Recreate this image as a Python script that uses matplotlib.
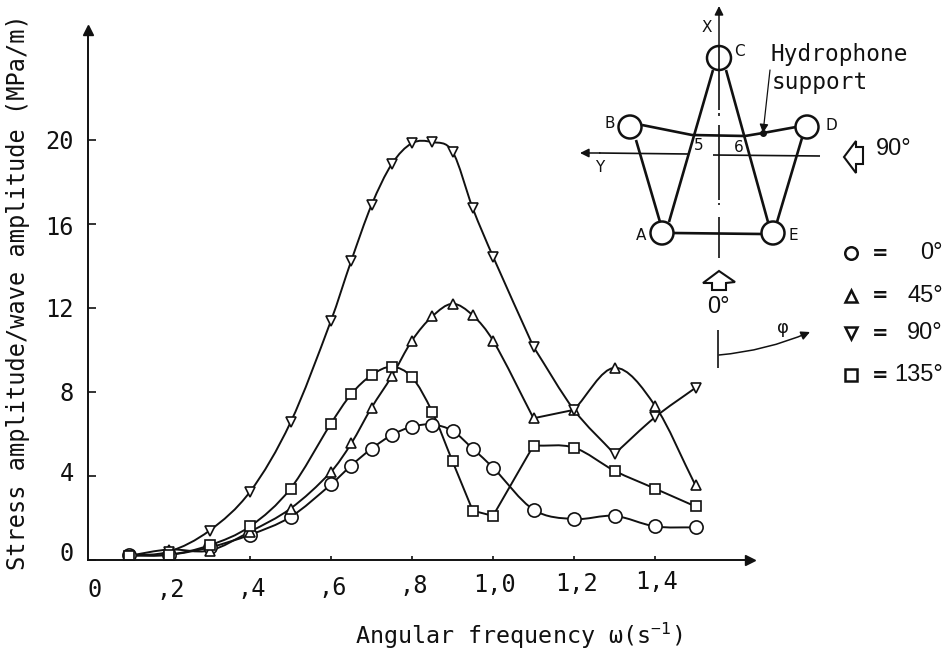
import matplotlib
matplotlib.use('Agg')
import matplotlib.pyplot as plt
from matplotlib.patches import Circle, FancyArrowPatch, PathPatch, Polygon
from matplotlib.path import Path
import numpy as np

plt.rcParams['font.family'] = 'DejaVu Sans Mono'
plt.rcParams['mathtext.default'] = 'regular'

freq = [.1, .2, .3, .4, .5, .6, .65, .7, .75, .8, .85, .9, .95, 1.0, 1.1, 1.2, 1.3, 1.4, 1.5]
deg0 = [.24, .25, .6, 1.2, 2.05, 3.6, 4.5, 5.3, 5.95, 6.35, 6.45, 6.15, 5.3, 4.4, 2.4, 1.95, 2.1, 1.6, 1.55]
deg45 = [.2, .5, .45, 1.35, 2.45, 4.2, 5.55, 7.25, 8.75, 10.45, 11.6, 12.2, 11.65, 10.45, 6.75, 7.15, 9.15, 7.35, 3.55]
deg90 = [.2, .4, 1.4, 3.25, 6.55, 11.4, 14.25, 16.9, 18.85, 19.85, 19.9, 19.45, 16.75, 14.45, 10.15, 7.15, 5.05, 6.8, 8.2]
deg135 = [.2, .25, .7, 1.6, 3.4, 6.5, 7.9, 8.8, 9.2, 8.7, 7.05, 4.7, 2.35, 2.1, 5.45, 5.35, 4.25, 3.4, 2.55]

# sharp corners in the hand drawn curves
kinks0 = []
kinks45 = [1.1, 1.2]
kinks90 = [1.1, 1.3]
kinks135 = [.95, 1.0, 1.1]

xticks = [.2, .4, .6, .8, 1.0, 1.2, 1.4]
xticklabels = [',2', ',4', ',6', ',8', '1,0', '1,2', '1,4']
yticks = [0, 4, 8, 12, 16, 20]

legend_marks = ['o', '^', 'v', 's']
legend_names = ['0°', '45°', '90°', '135°']
LINE = '#111111'


def smooth_path(x, y, kinks):
    # hermite curve through the points, flat slope given at the corners
    x = np.array(x)
    y = np.array(y)
    slope = np.zeros(len(x))
    slope[1:-1] = (y[2:] - y[:-2]) / (x[2:] - x[:-2])
    slope[0] = (y[1] - y[0]) / (x[1] - x[0])
    slope[-1] = (y[-1] - y[-2]) / (x[-1] - x[-2])
    verts = [(x[0], y[0])]
    codes = [Path.MOVETO]
    for i in range(len(x) - 1):
        dx = x[i + 1] - x[i]
        s0 = (y[i + 1] - y[i]) / dx if round(x[i], 2) in kinks else slope[i]
        s1 = (y[i + 1] - y[i]) / dx if round(x[i + 1], 2) in kinks else slope[i + 1]
        verts += [(x[i] + dx / 3, y[i] + s0 * dx / 3), (x[i + 1] - dx / 3, y[i + 1] - s1 * dx / 3),
                  (x[i + 1], y[i + 1])]
        codes += [Path.CURVE4] * 3
    return Path(verts, codes)


fig = plt.figure(figsize=(9.51, 6.52), dpi=100)
ax = fig.add_axes([88 / 951, 92 / 652, 662 / 951, 530 / 652])
ax.set_xlim(0, 662 / 405)
ax.set_ylim(0, 530 / 21)
ax.patch.set_visible(False)

series = [(deg0, kinks0, 'o', 9.5), (deg45, kinks45, '^', 7), (deg90, kinks90, 'v', 7), (deg135, kinks135, 's', 7.5)]
for vals, kinks, m, ms in series:
    ax.add_patch(PathPatch(smooth_path(freq, vals, kinks), fc='none', ec=LINE, lw=1.4))
for vals, kinks, m, ms in series:
    ax.plot(freq, vals, ls='none', marker=m, ms=ms, mfc='white', mec=LINE, mew=1.2)

for s in ['top', 'right']:
    ax.spines[s].set_visible(False)
for s in ['left', 'bottom']:
    ax.spines[s].set_linewidth(1.4)
    ax.spines[s].set_color(LINE)
ax.plot(1, 0, '>', color=LINE, ms=7, transform=ax.transAxes, clip_on=False)
ax.plot(0, 1, '^', color=LINE, ms=7, transform=ax.transAxes, clip_on=False)

ax.set_xticks(xticks, [''] * len(xticks))
ax.set_yticks(yticks, [''] * len(yticks))
ax.tick_params(axis='x', direction='in', length=3, width=1.2, color=LINE)
ax.tick_params(axis='y', direction='in', length=6, width=1.2, color=LINE)

# the scan is a bit skewed, so the tick labels drift upward to the right
for v, s in zip(xticks, xticklabels):
    ax.annotate(s, (v, 0), xytext=(2, -31.5 + 6.5 * v), textcoords='offset pixels', fontsize=17,
                ha='center', va='center', color=LINE, annotation_clip=False)
for v, shift in zip(yticks, [6, 2, -2, -2, -4, -2]):
    ax.annotate(str(v), (0, v), xytext=(-14, shift), textcoords='offset pixels', fontsize=17,
                ha='right', va='center', color=LINE, annotation_clip=False)

# overlay in image pixels for the labels and the sketch of the platform
ov = fig.add_axes([0, 0, 1, 1])
ov.set_xlim(0, 951)
ov.set_ylim(652, 0)
ov.axis('off')
ov.patch.set_visible(False)


def seg(pts, lw=1.9):
    ov.plot([p[0] for p in pts], [p[1] for p in pts], color=LINE, lw=lw, solid_capstyle='butt')


def label(x, y, s, size=11, fam='DejaVu Sans', ha='center', **kw):
    ov.text(x, y, s, fontsize=size, family=fam, ha=ha, va='center', color=LINE, **kw)


def arrow(p0, p1, lw=1.1, rad=0.0):
    ov.add_patch(FancyArrowPatch(p0, p1, arrowstyle='-|>', mutation_scale=13, lw=lw, color=LINE,
                                 shrinkA=0, shrinkB=0, connectionstyle=f'arc3,rad={rad}'))


label(95, 590, '0', 17, 'DejaVu Sans Mono')
label(18, 292, 'Stress amplitude/wave amplitude (MPa/m)', 17, 'DejaVu Sans Mono', rotation=90)
label(355, 636, 'Angular frequency ω(s$^{-1}$)', 16.8, 'DejaVu Sans Mono', ha='left')

seg([(713, 70), (669, 222)])
seg([(726, 70), (768, 222)])
seg([(636, 140), (660, 222)])
seg([(802, 138), (777, 222)])
seg([(673, 233), (762, 234)])
seg([(642, 125), (692, 135), (745, 136), (763, 133), (796, 127)])
seg([(599, 153), (688, 154)], 1.2)
seg([(713, 155), (820, 156)], 1.2)
arrow((600, 153), (580, 153))
arrow((719, 47), (719, 6))
seg([(719, 47), (719, 110)], 1.2)
seg([(719, 113), (719, 116)], 1.2)
seg([(719, 125), (719, 200)], 1.2)
seg([(719, 203), (719, 205)], 1.2)
seg([(719, 217), (719, 258)], 1.2)
seg([(718, 330), (718, 368)], 1.2)
arrow((719, 355), (810, 332), rad=0.08)
arrow((770, 70), (763, 133), lw=0.9)
ov.plot(763, 133, 'o', color=LINE, ms=4)

for cx, cy, r in [(719, 58, 12), (630, 127, 11.5), (807, 127, 11.5), (662, 233, 11.5), (773, 233, 11.5)]:
    ov.add_patch(Circle((cx, cy), r, fc='none', ec=LINE, lw=1.8))

ov.add_patch(Polygon([(719, 271), (703, 283), (712, 283), (712, 290), (726, 290), (726, 283), (735, 282)],
                     closed=True, fc='white', ec=LINE, lw=1.5))
ov.add_patch(Polygon([(844, 157), (856, 141), (856, 147), (863, 147), (863, 164), (856, 164), (856, 173)],
                     closed=True, fc='white', ec=LINE, lw=1.5))

for x, y, s in [(707, 28, 'X'), (739, 52, 'C'), (610, 123, 'B'), (831, 125, 'D'), (641, 235, 'A'),
                (793, 235, 'E'), (600, 168, 'Y'), (699, 146, '5'), (739, 148, '6')]:
    label(x, y, s, 11)
label(771, 55, 'Hydrophone', 16.4, 'DejaVu Sans Mono', ha='left')
label(772, 83, 'support', 16.4, 'DejaVu Sans Mono', ha='left')
label(894, 149, '90°', 17, 'Liberation Sans')
label(718, 307, '0°', 17, 'Liberation Sans')
label(783, 328, 'φ', 13)

legend_y = [253, 296, 333, 375]
for m, name, y in zip(legend_marks, legend_names, legend_y):
    ov.plot(851, y, m, ms=9, mfc='white', mec=LINE, mew=1.8)
    label(880, y, '=', 14, weight='bold')
    label(943, y, name, 17, 'Liberation Sans', ha='right')

fig.savefig('out.png', dpi=100)
